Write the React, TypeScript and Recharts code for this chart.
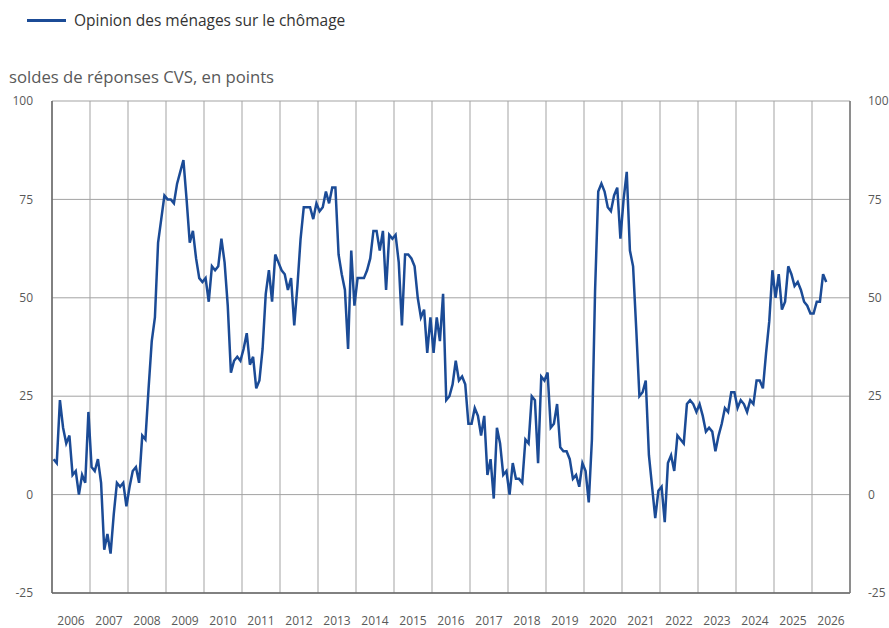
import { LineChart, Line, XAxis, YAxis, CartesianGrid } from "recharts";

// monthly values, one array per year (soldes de réponses CVS)
const y2006 = [9, 8, 24, 17, 13, 15, 5, 6, 0, 5, 3, 21];
const y2007 = [7, 6, 9, 3, -14, -10, -15, -5, 3, 2, 3, -3];
const y2008 = [2, 6, 7, 3, 15, 14, 27, 39, 45, 64, 70, 76];
const y2009 = [75, 75, 74, 79, 82, 85, 75, 64, 67, 60, 55, 54];
const y2010 = [55, 49, 58, 57, 58, 65, 59, 48, 31, 34, 35, 34];
const y2011 = [37, 41, 33, 35, 27, 29, 37, 51, 57, 49, 61, 59];
const y2012 = [57, 56, 52, 55, 43, 53, 65, 73, 73, 73, 70, 74];
const y2013 = [72, 73, 77, 74, 78, 78, 61, 56, 52, 37, 62, 48];
const y2014 = [55, 55, 55, 57, 60, 67, 67, 62, 67, 52, 66, 65];
const y2015 = [66, 59, 43, 61, 61, 60, 58, 50, 45, 47, 36, 45];
const y2016 = [36, 45, 39, 51, 24, 25, 28, 34, 29, 30, 28, 18];
const y2017 = [18, 22, 20, 15, 20, 5, 9, -1, 17, 13, 5, 6];
const y2018 = [0, 8, 4, 4, 3, 14, 13, 25, 24, 8, 30, 29];
const y2019 = [31, 17, 18, 23, 12, 11, 11, 9, 4, 5, 2, 8];
const y2020 = [6, -2, 14, 52, 77, 79, 77, 73, 72, 76, 78, 65];
const y2021 = [75, 82, 62, 58, 42, 25, 26, 29, 10, 2, -6, 1];
const y2022 = [2, -7, 8, 10, 6, 15, 14, 13, 23, 24, 23, 21];
const y2023 = [23, 20, 16, 17, 16, 11, 15, 18, 22, 21, 26, 26];
const y2024 = [22, 24, 23, 21, 24, 23, 29, 29, 27, 36, 44, 57];
const y2025 = [50, 56, 47, 49, 58, 56, 53, 54, 52, 49, 48, 46];
const y2026 = [46, 49, 49, 56, 54];

const years = [
  2006, 2007, 2008, 2009, 2010, 2011, 2012, 2013, 2014, 2015, 2016,
  2017, 2018, 2019, 2020, 2021, 2022, 2023, 2024, 2025, 2026,
];
const yTicks = [-25, 0, 25, 50, 75, 100];

const series = [
  y2006, y2007, y2008, y2009, y2010, y2011, y2012, y2013, y2014, y2015, y2016,
  y2017, y2018, y2019, y2020, y2021, y2022, y2023, y2024, y2025, y2026,
];

// x = month index, point drawn mid-month
const data = series.flat().map((v, i) => ({ m: i + 0.5, v }));
const yearTicks = years.map((_, i) => i * 12).concat(years.length * 12);

const W = 889;
const H = 628;
const LEFT = 52;
const RIGHT = 39;
const YEAR_PX = (W - LEFT - RIGHT) / years.length;
const FONT = "'Open Sans', sans-serif";
const BLUE = "#1b4b96";
const TXT = "#595959";

function YearTick({ x, y, payload }: any) {
  const idx = payload.value / 12;
  if (idx >= years.length) return <g />;
  return (
    <text x={x + YEAR_PX / 2} y={y + 28} dy="0.35em" textAnchor="middle" fontSize={12} fill={TXT} fontFamily={FONT}>
      {years[idx]}
    </text>
  );
}

function LeftTick({ x, y, payload }: any) {
  return (
    <text x={x - 19} y={y} dy="0.35em" textAnchor="end" fontSize={12} fill={TXT} fontFamily={FONT}>
      {payload.value}
    </text>
  );
}

function RightTick({ x, y, payload }: any) {
  return (
    <text x={x + 18} y={y} dy="0.35em" textAnchor="start" fontSize={12} fill={TXT} fontFamily={FONT}>
      {payload.value}
    </text>
  );
}

export default function App() {
  return (
    <div style={{ position: "absolute", left: 0, top: 0, width: W, height: H, background: "#fff", fontFamily: FONT }}>
      <div style={{ position: "absolute", left: 27, top: 9, display: "flex", alignItems: "center", height: 22 }}>
        <span style={{ display: "inline-block", width: 39, height: 3, background: BLUE, marginRight: 8 }} />
        <span style={{ fontSize: 15.5, color: "#333" }}>Opinion des ménages sur le chômage</span>
      </div>
      <div style={{ position: "absolute", left: 9, top: 65, fontSize: 16.7, color: TXT, whiteSpace: "nowrap" }}>
        soldes de réponses CVS, en points
      </div>
      <LineChart width={W} height={H} data={data} margin={{ top: 101, right: 0, bottom: 0, left: 0 }}>
        <CartesianGrid stroke="#a3a3a3" strokeWidth={1} />
        <XAxis
          dataKey="m"
          type="number"
          domain={[0, years.length * 12]}
          ticks={yearTicks}
          height={35}
          tickSize={0}
          tickMargin={0}
          tickLine={false}
          axisLine={{ stroke: "#666", strokeWidth: 1.5 }}
          tick={<YearTick />}
          interval={0}
        />
        <YAxis
          domain={[-25, 100]}
          ticks={yTicks}
          width={LEFT}
          tickSize={0}
          tickMargin={0}
          tickLine={false}
          axisLine={{ stroke: "#666", strokeWidth: 1.5 }}
          tick={<LeftTick />}
          interval={0}
        />
        <YAxis
          yAxisId="right"
          orientation="right"
          domain={[-25, 100]}
          ticks={yTicks}
          width={RIGHT}
          tickSize={0}
          tickMargin={0}
          tickLine={false}
          axisLine={{ stroke: "#777", strokeWidth: 1.5 }}
          tick={<RightTick />}
          interval={0}
        />
        <Line
          type="linear"
          dataKey="v"
          stroke={BLUE}
          strokeWidth={2.5}
          dot={false}
          isAnimationActive={false}
        />
        {/* mirror series so the right axis gets drawn */}
        <Line
          yAxisId="right"
          type="linear"
          dataKey="v"
          stroke="none"
          dot={false}
          activeDot={false}
          isAnimationActive={false}
        />
      </LineChart>
    </div>
  );
}
